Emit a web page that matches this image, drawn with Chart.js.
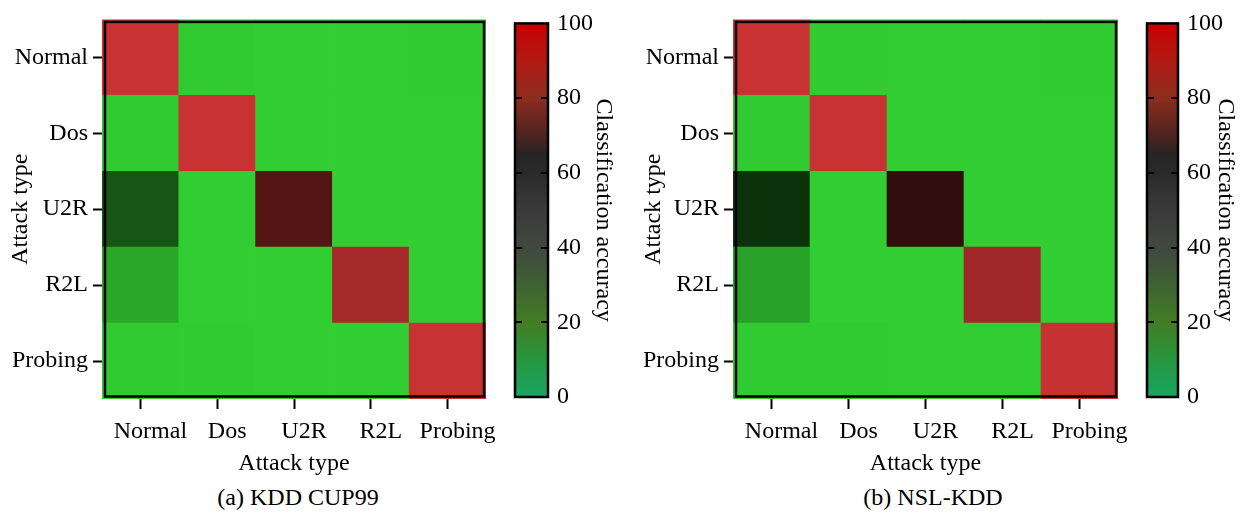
<!DOCTYPE html>
<html>
<head>
<meta charset="utf-8">
<script src="https://cdn.jsdelivr.net/npm/chart.js@4.4.1/dist/chart.umd.min.js"></script>
<style>
  body { margin: 0; background: #fff; }
  #wrap { position: relative; width: 1240px; height: 515px; font-family: 'Liberation Serif', 'Times New Roman', serif; }
  canvas { position: absolute; top: 0; }
  .caption { position: absolute; top: 483px; font-size: 24px; line-height: 28px; transform: translateX(-50%); white-space: nowrap; color: #000; }
</style>
</head>
<body>
<div id="wrap">
  <canvas id="heatA" width="500" height="480" style="left:0"></canvas>
  <canvas id="barA" width="120" height="480" style="left:500px"></canvas>
  <canvas id="heatB" width="497" height="480" style="left:633px"></canvas>
  <canvas id="barB" width="108" height="480" style="left:1132px"></canvas>
  <div class="caption" style="left:298px">(a) KDD CUP99</div>
  <div class="caption" style="left:933px">(b) NSL-KDD</div>
</div>
<script>
// attack types, top row first / left column first
const attackTypes = ['Normal', 'Dos', 'U2R', 'R2L', 'Probing'];

// classification accuracy (%) - rows: actual type, columns: predicted type
const kddCup99 = [
  [99, 0.5, 0, 0, 0.5],
  [1, 99, 0, 0, 0],
  [38, 0, 62, 0, 0],
  [12, 0, 0, 88, 0],
  [1, 0.5, 0, 0, 98.5]
];
const nslKdd = [
  [99, 0.5, 0, 0, 0.5],
  [1, 99, 0, 0, 0],
  [49, 0, 51, 0, 0],
  [14, 0, 0, 86, 0],
  [1, 1, 0, 0, 98]
];
const colorbarTicks = [0, 20, 40, 60, 80, 100];

// colour stops of the colour bar (value, colour)
const barStops = [
  [0, 'rgb(24,165,98)'], [10, 'rgb(38,150,62)'], [20, 'rgb(66,125,36)'],
  [30, 'rgb(62,98,50)'], [40, 'rgb(66,72,62)'], [50, 'rgb(58,58,58)'],
  [60, 'rgb(42,42,42)'], [65, 'rgb(38,36,36)'], [70, 'rgb(78,35,32)'],
  [80, 'rgb(140,45,30)'], [90, 'rgb(178,26,20)'], [100, 'rgb(200,0,0)']
];

Chart.defaults.font.family = "'Liberation Serif', 'Times New Roman', serif";
Chart.defaults.font.size = 24;
Chart.defaults.color = '#000';

// cell colour: bright green fading to black, then black to red
function cellColor(v) {
  if (v < 50) {
    const f = 1 - v / 65;
    return `rgb(${Math.round(50 * f)},${Math.round(205 * f)},${Math.round(50 * f)})`;
  }
  const f = Math.min(1, (v - 35) / 65);
  return `rgb(${Math.round(204 * f)},${Math.round(51 * f)},${Math.round(51 * f)})`;
}

const heatFrame = {
  id: 'heatFrame',
  afterDatasetsDraw(chart) {
    const { ctx, chartArea: a } = chart;
    ctx.save();
    ctx.strokeStyle = '#000';
    ctx.lineWidth = 2.5;
    ctx.strokeRect(a.left + 3, a.top + 2.5, a.width - 5, a.height - 5);
    ctx.restore();
  }
};

const barFrame = {
  id: 'barFrame',
  afterDatasetsDraw(chart) {
    const { ctx, chartArea: a } = chart;
    const y = chart.scales.y;
    ctx.save();
    ctx.strokeStyle = '#000';
    ctx.lineWidth = 2;
    colorbarTicks.slice(1, -1).forEach(v => {
      const py = Math.round(y.getPixelForValue(v));
      ctx.beginPath();
      ctx.moveTo(a.left, py); ctx.lineTo(a.left + 7, py);
      ctx.moveTo(a.right - 7, py); ctx.lineTo(a.right, py);
      ctx.stroke();
    });
    ctx.lineWidth = 2.5;
    ctx.strokeRect(a.left, a.top, a.width, a.height);
    ctx.restore();
  }
};

function heatChart(id, matrix, padRight, yWidth) {
  // stacked bars: first dataset is the bottom row
  const datasets = attackTypes.map((name, i) => i).reverse().map(r => ({
    label: attackTypes[r],
    data: matrix[r].map(() => 1),
    backgroundColor: matrix[r].map(cellColor),
    borderWidth: 0,
    barPercentage: 1,
    categoryPercentage: 1
  }));

  new Chart(document.getElementById(id), {
    type: 'bar',
    data: { labels: attackTypes, datasets },
    options: {
      responsive: false,
      animation: false,
      layout: { padding: { top: 13, right: padRight, left: 0, bottom: 0 } },
      plugins: { legend: { display: false }, tooltip: { enabled: false } },
      scales: {
        x: {
          stacked: true,
          grid: { offset: false, drawOnChartArea: false, tickLength: 10, tickWidth: 2, tickColor: '#000' },
          border: { display: false },
          ticks: { padding: 8, labelOffset: 10, maxRotation: 0, minRotation: 0, autoSkip: false },
          title: { display: true, text: 'Attack type', padding: { top: 0, bottom: 2 } },
          afterFit: ax => { ax.height = 81; }
        },
        y: {
          stacked: true,
          min: 0,
          max: 5,
          afterBuildTicks: ax => { ax.ticks = attackTypes.map((n, i) => ({ value: i + 0.5 })); },
          grid: { drawOnChartArea: false, tickLength: 9, tickWidth: 2, tickColor: '#000' },
          border: { display: false },
          ticks: { padding: 5, callback: v => attackTypes[attackTypes.length - 1 - Math.floor(v)] },
          title: { display: true, text: 'Attack type', padding: { top: 6, bottom: 0 } },
          afterFit: ax => { ax.width = yWidth; }
        }
      }
    },
    plugins: [heatFrame]
  });
}

function colorbarChart(id, yWidth, titlePad) {
  const top = colorbarTicks[colorbarTicks.length - 1];
  new Chart(document.getElementById(id), {
    type: 'bar',
    data: {
      labels: [''],
      datasets: [{
        data: [top],
        backgroundColor: ctx => {
          const a = ctx.chart.chartArea;
          if (!a) return null;
          const g = ctx.chart.ctx.createLinearGradient(0, a.bottom, 0, a.top);
          barStops.forEach(([v, c]) => g.addColorStop(v / top, c));
          return g;
        },
        borderWidth: 0,
        barPercentage: 1,
        categoryPercentage: 1
      }]
    },
    options: {
      responsive: false,
      animation: false,
      layout: { padding: { left: 15, top: 15, bottom: 83, right: 0 } },
      plugins: { legend: { display: false }, tooltip: { enabled: false } },
      scales: {
        x: { display: false },
        y: {
          position: 'right',
          min: 0,
          max: top,
          afterBuildTicks: ax => { ax.ticks = colorbarTicks.map(v => ({ value: v })); },
          grid: { display: false, drawTicks: false },
          border: { display: false },
          ticks: { padding: 9 },
          title: { display: true, text: 'Classification accuracy', padding: { top: titlePad, bottom: 0 } },
          afterFit: ax => { ax.width = yWidth; }
        }
      }
    },
    plugins: [barFrame]
  });
}

heatChart('heatA', kddCup99, 14, 102);
colorbarChart('barA', 72, 2.6);
heatChart('heatB', nslKdd, 12, 100);
colorbarChart('barB', 62, 0.6);
</script>
</body>
</html>
